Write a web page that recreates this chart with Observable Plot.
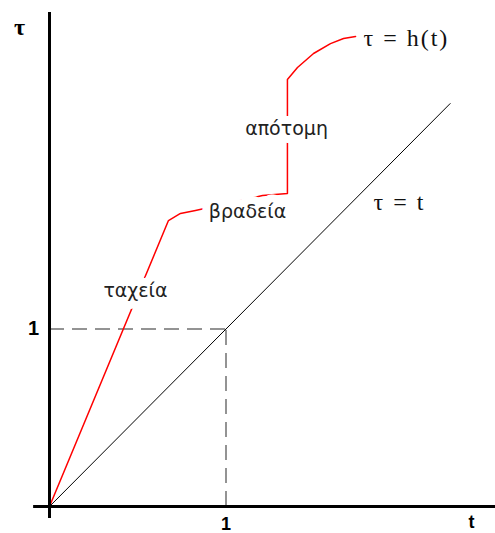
<!DOCTYPE html>
<html>
<head>
<meta charset="utf-8">
<script src="https://cdn.jsdelivr.net/npm/d3@7"></script>
<script src="https://cdn.jsdelivr.net/npm/@observablehq/plot@0.6"></script>
<style>
  html, body { margin: 0; padding: 0; background: #fff; }
</style>
</head>
<body>
<div id="chart"></div>
<script>
// Time transformation τ = h(t): fast, slow and abrupt phases
const hT   = [0, 0.674, 0.742, 0.827, 1.207, 1.348, 1.348, 1.405, 1.496, 1.592, 1.666, 1.734];
const hTau = [0, 1.611, 1.651, 1.668, 1.752, 1.763, 2.406, 2.473, 2.552, 2.608, 2.637, 2.648];

// Identity τ = t
const idT   = [0, 2.27];
const idTau = [0, 2.27];

// Phase labels along h(t)
const phaseNames = ["ταχεία", "βραδεία", "απότομη"];
const phaseT     = [0.487, 1.122, 1.343];
const phaseTau   = [1.217, 1.662, 2.130];

// Curve labels
const curveNames = ["τ = h(t)", "τ = t"];
const curveT     = [1.779, 1.836];
const curveTau   = [2.64, 1.713];

// Unit ticks
const unitTicks = [1];

const hData  = hT.map((t, i) => ({t, tau: hTau[i]}));
const idData = idT.map((t, i) => ({t, tau: idTau[i]}));
const phases = phaseNames.map((name, i) => ({name, t: phaseT[i], tau: phaseTau[i]}));
const curves = curveNames.map((name, i) => ({name, t: curveT[i], tau: curveTau[i]}));

const chart = Plot.plot({
  width: 495,
  height: 533,
  x: {domain: [0, 2.5], range: [49, 490.25], axis: null},
  y: {domain: [0, 2.8], range: [506, 9], axis: null},
  marks: [
    // dashed guides to (1, 1)
    Plot.ruleY(unitTicks, {x1: 0, x2: d => d, stroke: "#707070", strokeWidth: 1.5, strokeDasharray: "15,8"}),
    Plot.ruleX(unitTicks, {y1: 0, y2: d => d, stroke: "#707070", strokeWidth: 1.5, strokeDasharray: "15,8"}),
    // identity line
    Plot.line(idData, {x: "t", y: "tau", stroke: "#000", strokeWidth: 1}),
    // h(t)
    Plot.line(hData, {x: "t", y: "tau", stroke: "#ff0000", strokeWidth: 1.5, curve: "linear"}),
    // axes
    Plot.ruleY([0], {x1: -0.09, x2: 2.53, stroke: "#000", strokeWidth: 3}),
    Plot.ruleX([0], {y1: -0.068, y2: 2.783, stroke: "#000", strokeWidth: 3}),
    // phase labels with a wide white halo that breaks the curve
    Plot.text(phases, {x: "t", y: "tau", text: "name", fontFamily: "DejaVu Sans", fontSize: 19,
      fill: "#222", stroke: "white", strokeWidth: 16}),
    // curve labels
    Plot.text(curves, {x: "t", y: "tau", text: "name", textAnchor: "start", fontFamily: "Liberation Serif",
      fontSize: 24, fill: "#111"}),
    // axis names
    Plot.text(["τ"], {x: -0.17, y: 2.699, text: d => d, fontFamily: "Liberation Serif", fontWeight: "bold", fontSize: 24, fill: "#000"}),
    Plot.text(["t"], {x: 2.391, y: -0.09, text: d => d, fontFamily: "Liberation Sans", fontWeight: "bold", fontSize: 18, fill: "#000"}),
    // unit tick labels
    Plot.text(unitTicks, {x: d => d, y: -0.1, text: d => String(d), fontFamily: "Liberation Sans", fontWeight: "bold", fontSize: 18, fill: "#000"}),
    Plot.text(unitTicks, {x: -0.091, y: d => d, text: d => String(d), fontFamily: "Liberation Sans", fontWeight: "bold", fontSize: 20, fill: "#000"})
  ]
});

// looser spacing for the equation labels
d3.select(chart).selectAll("text")
  .filter(function () { return curveNames.includes(this.textContent); })
  .attr("letter-spacing", "2px");

document.getElementById("chart").appendChild(chart);
</script>
</body>
</html>
